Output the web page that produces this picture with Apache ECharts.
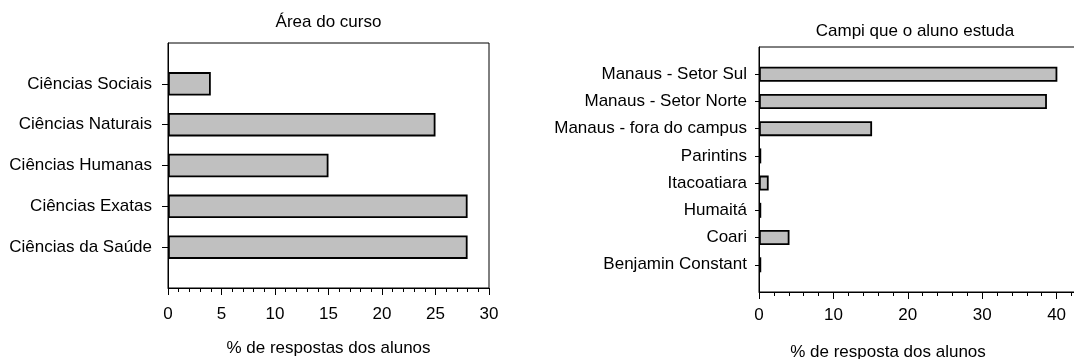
<!DOCTYPE html>
<html>
<head>
<meta charset="utf-8">
<script src="https://cdn.jsdelivr.net/npm/echarts@6/dist/echarts.min.js"></script>
<style>
  html, body { margin: 0; padding: 0; background: #fff; }
  #chart { width: 1074px; height: 359px; }
</style>
</head>
<body>
<div id="chart"></div>
<script>
// Área do curso (listed top to bottom)
const areaCategories = ['Ciências Sociais', 'Ciências Naturais', 'Ciências Humanas', 'Ciências Exatas', 'Ciências da Saúde'];
const areaValues = [4, 25, 15, 28, 28];
const areaTicks = { min: 0, max: 30, interval: 5 };

// Campi que o aluno estuda (listed top to bottom)
const campusCategories = ['Manaus - Setor Sul', 'Manaus - Setor Norte', 'Manaus - fora do campus', 'Parintins', 'Itacoatiara', 'Humaitá', 'Coari', 'Benjamin Constant'];
const campusValues = [40.1, 38.7, 15.2, 0.3, 1.3, 0.3, 4.1, 0.3];
const campusTicks = { min: 0, max: 50, interval: 10 };

const FONT = '"Liberation Sans", Arial, sans-serif';

// Empty slots above and below so the bars sit on band edges
const pad = arr => ['', ...arr, ''];
const padVals = arr => [null, ...arr, null];
const notEmpty = (idx, val) => val !== '';

function catAxis(gridIndex, cats, tickLen, margin) {
  return {
    type: 'category', gridIndex, inverse: true, boundaryGap: false,
    data: pad(cats),
    axisLine: { show: true, lineStyle: { color: '#000', width: 1 } },
    axisTick: { show: true, length: tickLen, interval: notEmpty, lineStyle: { color: '#000' } },
    axisLabel: { interval: notEmpty, margin, color: '#000', fontSize: 17, fontFamily: FONT },
    splitLine: { show: false }
  };
}

function valAxis(gridIndex, ticks, name, margin, namePad) {
  return {
    type: 'value', gridIndex, min: ticks.min, max: ticks.max, interval: ticks.interval,
    name, nameLocation: 'middle', nameGap: 52,
    nameTextStyle: { color: '#000', fontSize: 17, fontFamily: FONT, padding: namePad },
    axisLine: { show: true, lineStyle: { color: '#000', width: 1 } },
    axisTick: { show: true, length: 7, lineStyle: { color: '#000' } },
    minorTick: { show: true, splitNumber: 5, length: 4, lineStyle: { color: '#000' } },
    axisLabel: { margin, color: '#000', fontSize: 17, fontFamily: FONT },
    splitLine: { show: false }
  };
}

const barStyle = { color: '#c0c0c0', borderColor: '#000', borderWidth: 1.8 };

const chart = echarts.init(document.getElementById('chart'), null, { renderer: 'canvas' });
chart.setOption({
  animation: false,
  backgroundColor: '#fff',
  title: [
    { text: 'Área do curso', left: 328.5, top: 14, textAlign: 'center', padding: 0,
      textStyle: { color: '#000', fontSize: 17, fontWeight: 'normal', fontFamily: FONT } },
    { text: 'Campi que o aluno estuda', left: 915, top: 23, textAlign: 'center', padding: 0,
      textStyle: { color: '#000', fontSize: 17, fontWeight: 'normal', fontFamily: FONT } }
  ],
  grid: [
    { left: 168, top: 43, width: 321, height: 245, outerBoundsMode: 'none', containLabel: false,
      show: true, borderColor: '#000', borderWidth: 1, backgroundColor: '#fff' },
    // the right panel runs past the edge of the page
    { left: 759, top: 47, width: 372, height: 245, outerBoundsMode: 'none', containLabel: false,
      show: true, borderColor: '#000', borderWidth: 1, backgroundColor: '#fff' }
  ],
  xAxis: [
    valAxis(0, areaTicks, '% de respostas dos alunos', 18, 0),
    valAxis(1, campusTicks, '% de resposta dos alunos', 15, [0, 114, 0, 0])
  ],
  yAxis: [
    catAxis(0, areaCategories, 6, 16),
    catAxis(1, campusCategories, 4, 12)
  ],
  series: [
    { type: 'bar', xAxisIndex: 0, yAxisIndex: 0, data: padVals(areaValues), barWidth: 23.5, itemStyle: barStyle, silent: true },
    { type: 'bar', xAxisIndex: 1, yAxisIndex: 1, data: padVals(campusValues), barWidth: 15, itemStyle: barStyle, silent: true }
  ]
});
</script>
</body>
</html>
